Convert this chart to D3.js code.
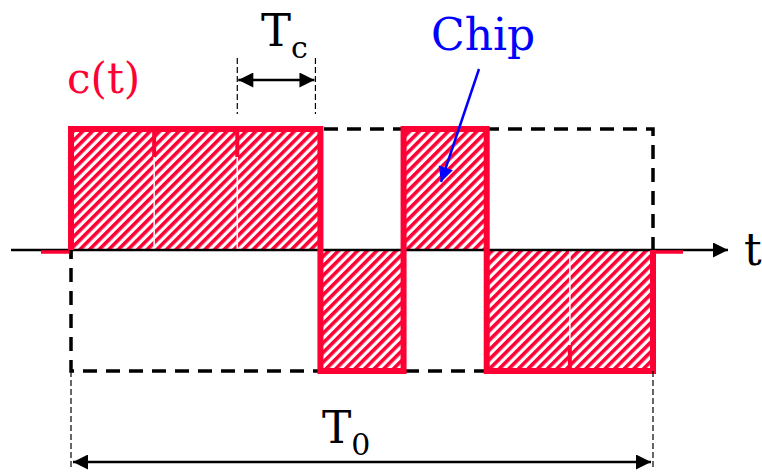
<!DOCTYPE html>
<html>
<head>
<meta charset="utf-8">
<style>
  body { margin: 0; background: #fff; }
  #chips text { font-family: 'DejaVu Serif', serif; }
</style>
</head>
<body>
<div id="chips"></div>
<script src="https://d3js.org/d3.v7.min.js"></script>
<script>
  // spreading code, one value per chip
  var chips = [1, 1, 1, -1, 1, -1, -1];
  var levels = [-1, 0, 1];
  var labels = { code: "c(t)", chip: "Chip", tc: "T", tcSub: "c", t0: "T", t0Sub: "0", axis: "t" };

  var red = "#ff0035", blue = "#0000ff";
  var width = 762, height = 472;

  var svg = d3.select("#chips").append("svg")
    .attr("width", width).attr("height", height);

  var x = d3.scaleLinear().domain([0, chips.length]).range([71, 653]);
  var y = d3.scaleLinear().domain(d3.extent(levels)).range([371, 129]);

  var defs = svg.append("defs");
  var pat = defs.append("pattern")
    .attr("id", "hatch")
    .attr("patternUnits", "userSpaceOnUse")
    .attr("width", 6.8).attr("height", 6.8)
    .attr("patternTransform", "rotate(45)");
  pat.append("rect").attr("width", 3.6).attr("height", 6.8).attr("fill", red);

  function marker(id) {
    defs.append("marker")
      .attr("id", id)
      .attr("viewBox", "0 0 10 10")
      .attr("refX", 10).attr("refY", 5)
      .attr("markerWidth", 7).attr("markerHeight", 6)
      .attr("markerUnits", "strokeWidth")
      .attr("orient", "auto-start-reverse")
      .append("path").attr("d", "M0,0L10,5L0,10Z").attr("fill", "#000");
  }
  marker("arr");
  defs.append("marker")
    .attr("id", "arrBlue")
    .attr("viewBox", "0 0 10 10")
    .attr("refX", 10).attr("refY", 5)
    .attr("markerWidth", 7).attr("markerHeight", 6)
    .attr("orient", "auto")
    .append("path").attr("d", "M0,0L10,5L0,10Z").attr("fill", blue);

  // dashed envelope
  svg.append("rect")
    .attr("x", x(0)).attr("y", y(1))
    .attr("width", x(chips.length) - x(0)).attr("height", y(-1) - y(1))
    .attr("fill", "none").attr("stroke", "#000")
    .attr("stroke-width", 3.5).attr("stroke-dasharray", "14,9");

  // hatched chips
  svg.selectAll("rect.chip")
    .data(chips)
    .enter().append("rect")
    .attr("class", "chip")
    .attr("x", function(d, i) { return x(i); })
    .attr("width", x(1) - x(0))
    .attr("y", function(d) { return Math.min(y(d), y(0)); })
    .attr("height", function(d) { return Math.abs(y(d) - y(0)); })
    .attr("fill", "url(#hatch)");

  // white separators between equal chips, with a short red stub at the level
  var seps = [];
  chips.forEach(function(d, i) { if (i > 0 && chips[i - 1] === d) seps.push({ i: i, v: d }); });
  svg.selectAll("line.sep")
    .data(seps)
    .enter().append("line")
    .attr("x1", function(d) { return x(d.i); }).attr("x2", function(d) { return x(d.i); })
    .attr("y1", y(0)).attr("y2", function(d) { return y(d.v); })
    .attr("stroke", "#fff").attr("stroke-width", 1.5);
  svg.selectAll("line.stub")
    .data(seps)
    .enter().append("line")
    .attr("x1", function(d) { return x(d.i); }).attr("x2", function(d) { return x(d.i); })
    .attr("y1", function(d) { return y(d.v); })
    .attr("y2", function(d) { return y(d.v) + (d.v > 0 ? 28 : -26); })
    .attr("stroke", red).attr("stroke-width", 4);

  // axis
  svg.append("line")
    .attr("x1", 11).attr("x2", 728).attr("y1", y(0)).attr("y2", y(0))
    .attr("stroke", "#000").attr("stroke-width", 2.5)
    .attr("marker-end", "url(#arr)");

  // waveform outline
  var pts = chips.map(function(d, i) { return [i, d]; });
  pts.unshift([0, 0]);
  pts.push([chips.length, chips[chips.length - 1]]);
  pts.push([chips.length, 0]);
  var line = d3.line()
    .x(function(d) { return x(d[0]); })
    .y(function(d) { return y(d[1]); })
    .curve(d3.curveStepAfter);
  svg.append("path")
    .attr("d", line(pts))
    .attr("fill", "none").attr("stroke", red)
    .attr("stroke-width", 6).attr("stroke-linejoin", "miter");

  // red stubs on the zero line outside the code period
  [[x(0) - 30, x(0)], [x(chips.length), x(chips.length) + 30]].forEach(function(s) {
    svg.append("line")
      .attr("x1", s[0]).attr("x2", s[1]).attr("y1", y(0) + 2).attr("y2", y(0) + 2)
      .attr("stroke", red).attr("stroke-width", 3.5);
  });
  svg.append("line")
    .attr("x1", x(0)).attr("x2", x(0)).attr("y1", y(0)).attr("y2", y(0) + 9)
    .attr("stroke", "#000").attr("stroke-width", 3);

  // T0 span
  [x(0), x(chips.length)].forEach(function(px) {
    svg.append("line")
      .attr("x1", px).attr("x2", px).attr("y1", y(-1)).attr("y2", 468)
      .attr("stroke", "#000").attr("stroke-width", 1.2).attr("stroke-dasharray", "6,3");
  });
  svg.append("line")
    .attr("x1", x(0) + 2).attr("x2", x(chips.length) - 2).attr("y1", 462).attr("y2", 462)
    .attr("stroke", "#000").attr("stroke-width", 2.5)
    .attr("marker-start", "url(#arr)").attr("marker-end", "url(#arr)");
  var t0 = svg.append("text").attr("x", 322).attr("y", 443).attr("font-size", 44).attr("fill", "#000");
  t0.append("tspan").text(labels.t0);
  t0.append("tspan").attr("font-size", 30).attr("dy", 12).text(labels.t0Sub);

  // Tc span
  var tcL = x(2), tcR = x(3) - 5;
  [tcL, tcR].forEach(function(px) {
    svg.append("line")
      .attr("x1", px).attr("x2", px).attr("y1", 58).attr("y2", 114)
      .attr("stroke", "#000").attr("stroke-width", 1.2).attr("stroke-dasharray", "6,3");
  });
  svg.append("line")
    .attr("x1", tcL + 1).attr("x2", tcR - 1).attr("y1", 80).attr("y2", 80)
    .attr("stroke", "#000").attr("stroke-width", 2.5)
    .attr("marker-start", "url(#arr)").attr("marker-end", "url(#arr)");
  var tc = svg.append("text").attr("x", 261).attr("y", 46).attr("font-size", 45).attr("fill", "#000");
  tc.append("tspan").text(labels.tc);
  tc.append("tspan").attr("font-size", 30).attr("dy", 12).text(labels.tcSub);

  // labels
  svg.append("text").attr("x", 67).attr("y", 93).attr("font-size", 42)
    .attr("fill", red).text(labels.code);
  svg.append("text").attr("x", 431).attr("y", 50).attr("font-size", 44)
    .attr("fill", blue).text(labels.chip);
  svg.append("text").attr("x", 744).attr("y", 265).attr("font-size", 44)
    .attr("fill", "#000").text(labels.axis);

  svg.append("line")
    .attr("x1", 479).attr("y1", 69).attr("x2", 441).attr("y2", 182)
    .attr("stroke", blue).attr("stroke-width", 2.5)
    .attr("marker-end", "url(#arrBlue)");
</script>
</body>
</html>
